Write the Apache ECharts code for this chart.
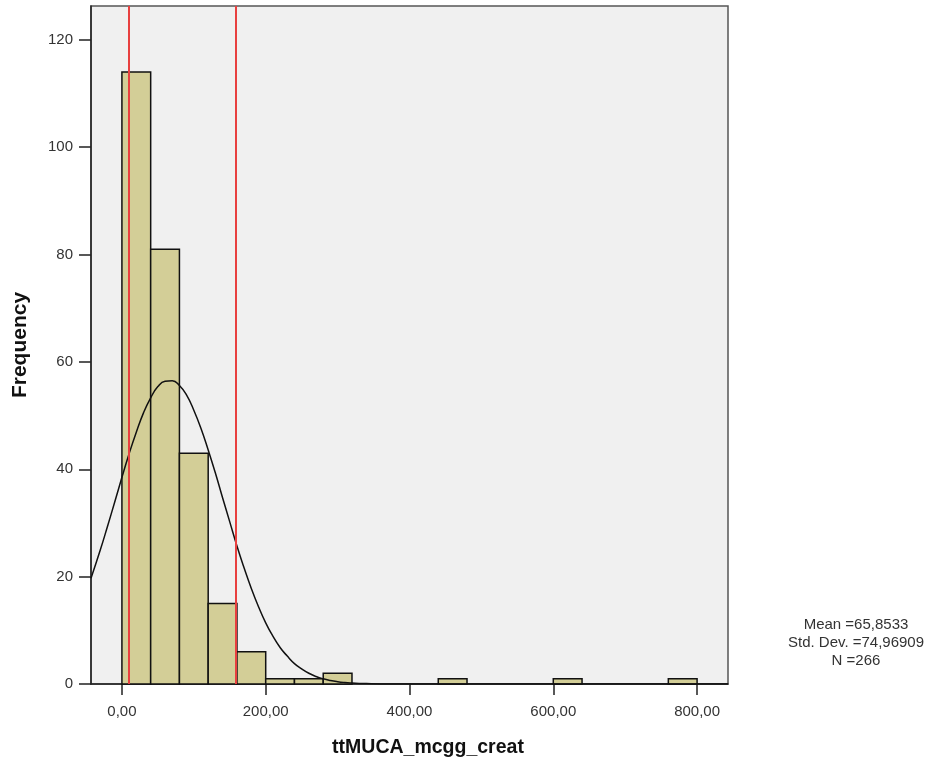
<!DOCTYPE html>
<html>
<head>
<meta charset="utf-8">
<script src="https://cdn.jsdelivr.net/npm/echarts@6/dist/echarts.min.js"></script>
<style>html,body{margin:0;padding:0;background:#fff}#c{width:946px;height:766px}</style>
</head>
<body>
<div id="c"></div>
<script>
// Histogram bins (start, end) and frequencies
const binStarts = [0, 40, 80, 120, 160, 200, 240, 280, 440, 600, 760];
const binEnds   = [40, 80, 120, 160, 200, 240, 280, 320, 480, 640, 800];
const counts    = [114, 81, 43, 15, 6, 1, 1, 2, 1, 1, 1];
// Normal curve
const curveX = [-43,-30,-20,-10,0,10,20,30,40,50,60,70,80,90,100,110,120,130,140,150,160,170,180,190,200,210,220,230,240,250,260,270,280,290,300,310,320,330,340,360,400,843];
const curveY = [19.7,25.0,29.4,33.9,38.5,42.9,46.9,50.5,53.3,55.4,56.4,56.5,55.6,53.8,51.0,47.6,43.6,39.3,34.7,30.2,25.7,21.6,17.8,14.4,11.4,8.9,6.8,5.2,3.8,2.8,2.0,1.4,0.96,0.65,0.43,0.28,0.18,0.11,0.07,0.02,0,0];
// Reference lines
const refLines = [10, 159];
const xTicks = [0, 200, 400, 600, 800];
const yTicks = [0, 20, 40, 60, 80, 100, 120];
const xTitle = 'ttMUCA_mcgg_creat';
const yTitle = 'Frequency';
const statsLines = ['Mean =65,8533', 'Std. Dev. =74,96909', 'N =266'];

const FONT = 'Liberation Sans, Arial, sans-serif';
const chart = echarts.init(document.getElementById('c'), null, {renderer: 'canvas'});
const histData = binStarts.map((s, i) => [s, binEnds[i], counts[i]]);
const lineData = curveX.map((x, i) => [x, curveY[i]]);

chart.setOption({
  animation: false,
  backgroundColor: '#ffffff',
  grid: {left: 91, right: 218, top: 6, bottom: 82, outerBoundsMode: 'none', containLabel: false,
    show: true, backgroundColor: '#f0f0f0', borderColor: '#555', borderWidth: 1.5},
  xAxis: {
    type: 'value', min: -43, max: 843,
    splitLine: {show: false},
    axisLine: {show: true, onZero: false, lineStyle: {color: '#222', width: 1.5}},
    axisTick: {show: true, customValues: xTicks, length: 11, lineStyle: {color: '#222', width: 1.5}},
    axisLabel: {customValues: xTicks, margin: 20, color: '#333', fontFamily: FONT, fontSize: 15,
      formatter: v => v.toFixed(2).replace('.', ',')}
  },
  yAxis: {
    type: 'value', min: 0, max: 126.3,
    splitLine: {show: false},
    axisLine: {show: true, onZero: false, lineStyle: {color: '#222', width: 1.5}},
    axisTick: {show: true, customValues: yTicks, length: 12, lineStyle: {color: '#222', width: 1.5}},
    axisLabel: {customValues: yTicks, margin: 18, color: '#333', fontFamily: FONT, fontSize: 15},
    name: yTitle, nameLocation: 'middle', nameGap: 60, nameRotate: 90,
    nameTextStyle: {fontFamily: FONT, fontSize: 21, fontWeight: 'bold', color: '#111'}
  },
  graphic: [{
    type: 'text', x: 856, y: 616,
    style: {text: statsLines.join('\n'), fontFamily: FONT, fontSize: 15, lineHeight: 18, fill: '#333', align: 'center', verticalAlign: 'top'}
  }, {
    type: 'text', x: 428, y: 748,
    style: {text: xTitle, fontFamily: FONT, fontSize: 19.5, fontWeight: 'bold', fill: '#111', align: 'center', verticalAlign: 'middle'}
  }],
  series: [
    {
      type: 'custom', z: 2,
      renderItem: function (params, api) {
        const p0 = api.coord([api.value(0), api.value(2)]);
        const p1 = api.coord([api.value(1), 0]);
        return {type: 'rect', shape: {x: p0[0], y: p0[1], width: p1[0] - p0[0], height: p1[1] - p0[1]},
          style: {fill: '#d3ce97', stroke: '#111', lineWidth: 1.5}};
      },
      encode: {x: [0, 1], y: 2},
      data: histData
    },
    {
      type: 'line', z: 3, smooth: true, showSymbol: false, symbol: 'none',
      lineStyle: {color: '#111', width: 1.5},
      data: lineData
    },
    {
      type: 'line', z: 4, data: [],
      markLine: {silent: true, symbol: 'none', label: {show: false},
        lineStyle: {color: '#e8403f', width: 2, type: 'solid'},
        data: refLines.map(v => ({xAxis: v}))}
    }
  ]
});
</script>
</body>
</html>
